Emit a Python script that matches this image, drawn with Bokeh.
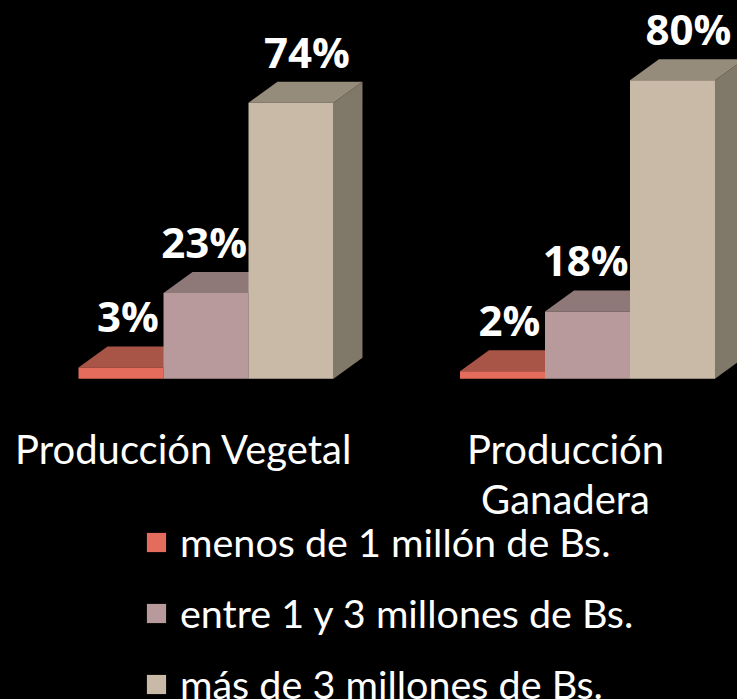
from bokeh.plotting import figure
from bokeh.models import Range1d, ColumnDataSource, Legend, LegendItem, GlobalInlineStyleSheet
from bokeh.core.properties import value
from bokeh.embed import file_html
from bokeh.resources import INLINE

# ---- data ----
categories = ["Producción Vegetal", "Producción\nGanadera"]
series_names = ["menos de 1 millón de Bs.", "entre 1 y 3 millones de Bs.", "más de 3 millones de Bs."]
menos_1 = [3, 2]
entre_1_3 = [23, 18]
mas_3 = [74, 80]
series_values = [menos_1, entre_1_3, mas_3]

# ---- style ----
front_colors = ["#E46C5D", "#B89A9C", "#C8BAA7"]
top_colors = ["#A85446", "#8E7878", "#968C7C"]
side_colors = ["#8C4438", "#7A6666", "#807868"]
W = 0.2228      # bar width (category units)
DX = 0.076      # 3D depth, x
DY = 5.63       # 3D depth, y (percent units)
label_dx = [0.018, -0.005, 0.042]
label_dy = 8.2

p = figure(width=737, height=699, x_range=Range1d(-0.5387, 1.3932),
           y_range=Range1d(-86.0, 101.4), output_backend="svg",
           toolbar_location=None, background_fill_color="black",
           border_fill_color="black", min_border=0, outline_line_color=None)
p.axis.visible = False
p.grid.visible = False
p.stylesheets = [GlobalInlineStyleSheet(css="html, body { background-color: black; }")]

sides = dict(xs=[], ys=[], c=[])
tops = dict(xs=[], ys=[], c=[])
fronts = []
lab = dict(x=[], y=[], t=[])
for i, vals in enumerate(series_values):
    fx, fy = [], []
    for g, v in enumerate(vals):
        x0 = g + (i - 1) * W - W / 2
        x1 = x0 + W
        sides["xs"].append([x1, x1 + DX, x1 + DX, x1])
        sides["ys"].append([0, DY, v + DY, v])
        sides["c"].append(side_colors[i])
        tops["xs"].append([x0, x1, x1 + DX, x0 + DX])
        tops["ys"].append([v, v, v + DY, v + DY])
        tops["c"].append(top_colors[i])
        fx.append([x0, x1, x1, x0])
        fy.append([0, 0, v, v])
        lab["x"].append(x0 + W / 2 + label_dx[i])
        lab["y"].append(v + DY + label_dy)
        lab["t"].append(f"{v}%")
    fronts.append((fx, fy))

p.patches("xs", "ys", fill_color="c", line_color=None, source=ColumnDataSource(sides))
p.patches("xs", "ys", fill_color="c", line_color=None, source=ColumnDataSource(tops))
items = []
for i, (fx, fy) in enumerate(fronts):
    r = p.patches(fx, fy, fill_color=front_colors[i], line_color=None)
    items.append(LegendItem(label=series_names[i], renderers=[r]))

p.text("x", "y", "t", source=ColumnDataSource(lab), text_color="white",
       text_font=value("Open Sans"), text_font_style="bold", text_font_size="42px",
       text_align="center", text_baseline="alphabetic")

# category labels (split on line breaks)
cat = dict(x=[], y=[], t=[])
for g, name in enumerate(categories):
    for k, line in enumerate(name.split("\n")):
        cat["x"].append(g - 0.0577)
        cat["y"].append(-18.8 - 13.41 * k)
        cat["t"].append(line)
p.text("x", "y", "t", source=ColumnDataSource(cat), text_color="white",
       text_font=value("Lato"), text_font_size="40px",
       text_align="center", text_baseline="alphabetic")

legend = Legend(items=items, location=(144, -8), orientation="vertical",
                glyph_width=24, glyph_height=24, label_standoff=12, spacing=24,
                padding=0, margin=0, border_line_color=None, background_fill_alpha=0,
                label_text_color="white", label_text_font="Lato", label_text_font_size="39.5px")
p.add_layout(legend)

open("out.html", "w").write(file_html(p, INLINE))
